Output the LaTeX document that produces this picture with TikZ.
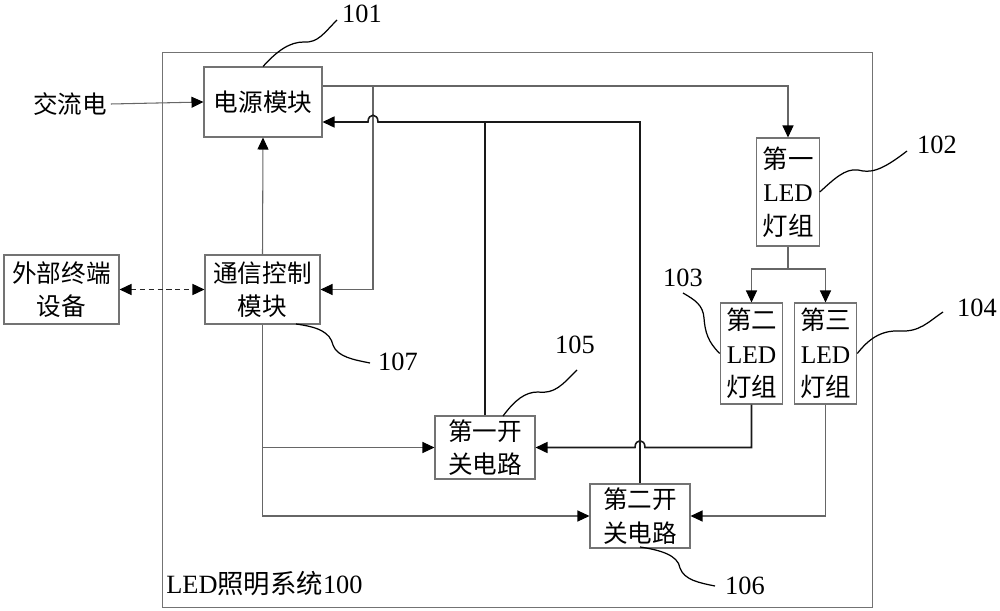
\documentclass[tikz,border=0pt]{standalone}
\usepackage{fontspec}
\setmainfont{Liberation Serif}
\newfontfamily\cjk{Noto Sans CJK SC}
\usetikzlibrary{arrows.meta}
\begin{document}
\begin{tikzpicture}[x=0.02cm,y=-0.02cm,
  box/.style={draw=black!55, line width=0.6pt, inner sep=0pt, align=center,
              font=\cjk\fontsize{14}{19}\selectfont},
  ledbox/.style={draw=black!55, line width=0.6pt, inner sep=0pt, align=center,
              font=\fontsize{14.5}{19}\selectfont, minimum width=1.25cm},
  wire/.style={draw=black!60, line width=0.6pt},
  heavy/.style={draw=black!90, line width=0.9pt},
  tip/.tip={Triangle[length=0.24cm,width=0.22cm,color=black]},
  arr/.style={-tip},
  lead/.style={draw=black, line width=0.7pt},
  lbl/.style={font=\fontsize{15}{18}\selectfont, inner sep=0pt}]
\useasboundingbox (0,0) rectangle (1000,611);

% outer system frame
\node[draw=black!55, line width=0.6pt, inner sep=0pt, minimum width=14.22cm, minimum height=11.12cm] (sys) at (517.5,330) {};
\node[anchor=west, inner sep=0pt, font=\fontsize{15}{18}\selectfont] (sysl) at (166,584) {LED{\cjk 照明系统}100};

% blocks
\node[inner sep=2pt, font=\cjk\fontsize{14}{17}\selectfont] (ac) at (70,104) {交流电};
\node[box, minimum width=2.36cm, minimum height=1.4cm] (pm) at (263,102) {电源模块};
\node[ledbox, minimum height=2.16cm] (led1) at (788,192) {{\cjk 第一}\\LED\\{\cjk 灯组}};
\node[ledbox, minimum height=2.02cm] (led2) at (751.5,353.5) {{\cjk 第二}\\LED\\{\cjk 灯组}};
\node[ledbox, minimum height=2.02cm] (led3) at (825.5,353.5) {{\cjk 第三}\\LED\\{\cjk 灯组}};
\node[box, minimum width=2cm, minimum height=1.26cm] (sw1) at (485,447.5) {第一开\\关电路};
\node[box, minimum width=2cm, minimum height=1.28cm] (sw2) at (640,516) {第二开\\关电路};
\node[box, minimum width=2.3cm, minimum height=1.38cm] (cc) at (262.5,289.5) {通信控制\\模块};
\node[box, minimum width=2.3cm, minimum height=1.38cm] (ext) at (61.5,289.5) {外部终端\\设备};

% reference numerals
\node[lbl] (n101) at (362,14) {101};
\node[lbl] (n102) at (937,145) {102};
\node[lbl] (n103) at (683,278) {103};
\node[lbl] (n104) at (977,308) {104};
\node[lbl] (n105) at (575,345) {105};
\node[lbl] (n106) at (745,586) {106};
\node[lbl] (n107) at (398,362) {107};

% junction coordinates
\coordinate (j1) at (373,86);
\coordinate (j2) at (788,269);
\coordinate (f1) at (485,122);
\coordinate (f2) at (640,122);

% connectors
\draw[wire, arr] (ac.east) -- (pm.west);
\draw[wire] (pm.east |- j1) -- (j1);
\draw[wire, arr] (j1) -| (led1.north);
\draw[wire, arr] (j1) |- (cc.east);
\draw[wire, arr] (cc.north) -- (pm.south);
\draw[draw=black!85, line width=0.8pt, dash pattern=on 3pt off 2pt, tip-tip]
      (ext.east) -- (cc.west);
\draw[wire] (led1.south) -- (j2);
\draw[wire, arr] (j2) -| (led2.north);
\draw[wire, arr] (j2) -| (led3.north);

% feedback lines to power module
\draw[heavy] (sw1.north) -- (f1);
\draw[heavy] (sw2.north) -- (f2) -- (f1);
\draw[heavy, arr] (f1) -- (378,122) .. controls (378,113) and (368,113) .. (368,122) -- (pm.east |- f1);

% LED groups to switches
\draw[heavy, arr] (led2.south) -- (led2.south |- sw1.east) -- (645,447.5)
      .. controls (645,438.5) and (635,438.5) .. (635,447.5) -- (sw1.east);
\draw[wire, arr] (led3.south) |- (sw2.east);

% control lines to switches
\draw[wire, arr] (cc.south) |- (sw2.west);
\draw[wire, arr] (cc.south |- sw1.west) -- (sw1.west);

% leader curves
\draw[lead] (pm.north) .. controls (278,50) and (290,42) .. (304,42)
      .. controls (318,43) and (324,33) .. (337,20);
\draw[lead] (led1.east) .. controls (833,180) and (845,168) .. (858,170)
      .. controls (870,173) and (880,172) .. (907,151);
\draw[lead] (led2.west) .. controls (708,342) and (705,332) .. (704,318)
      .. controls (703,305) and (695,300) .. (683,293);
\draw[lead] (led3.east) .. controls (868,340) and (880,330) .. (900,331)
      .. controls (920,332) and (928,322) .. (943,312);
\draw[lead] (503,416) .. controls (515,400) and (525,392) .. (538,392)
      .. controls (555,394) and (562,385) .. (577,370);
\draw[lead] (640,547) .. controls (660,550) and (678,555) .. (680,568)
      .. controls (684,580) and (700,583) .. (715,586);
\draw[lead] (296,324) .. controls (318,327) and (330,332) .. (333,345)
      .. controls (337,357) and (355,360) .. (370,363);
\end{tikzpicture}
\end{document}
